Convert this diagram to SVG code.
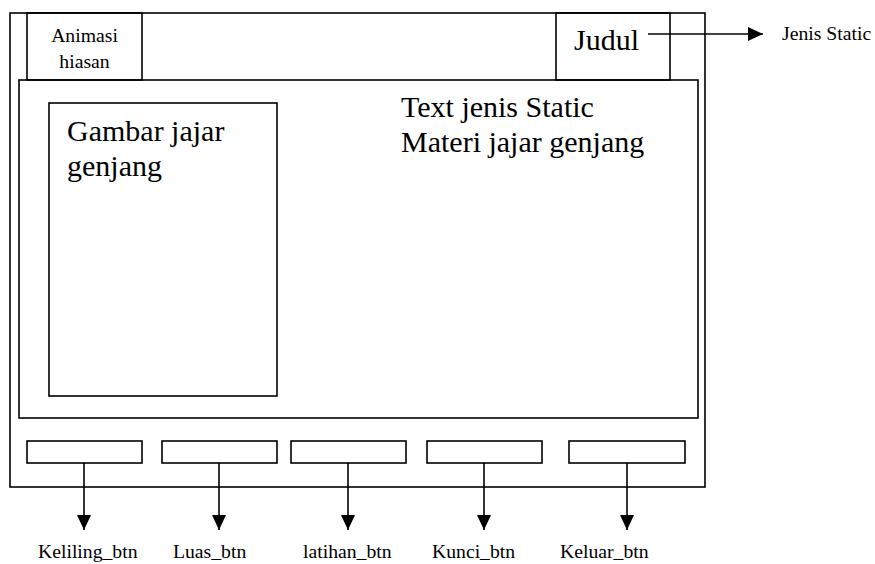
<svg xmlns="http://www.w3.org/2000/svg" width="875" height="564" viewBox="0 0 875 564">
  <style>
    .box { fill: none; stroke: #000; stroke-width: 1.6; }
    .wire { fill: none; stroke: #000; stroke-width: 1.6; }
    text { font-family: "Liberation Serif", "Times New Roman", serif; fill: #000; }
    .small { font-size: 19.7px; }
    .big { font-size: 30px; }
  </style>
  <defs>
    <marker id="arrow" viewBox="0 0 15 14" refX="15" refY="7" markerWidth="15" markerHeight="14" markerUnits="userSpaceOnUse" orient="auto">
      <path d="M0,0 L15,7 L0,14 Z" fill="#000"/>
    </marker>
  </defs>
  <rect width="875" height="564" fill="#fff"/>

  <!-- outer window frame -->
  <g id="frame">
    <rect class="box" x="10" y="13" width="695" height="474"/>
  </g>

  <!-- header: animation slot -->
  <g id="animasi">
    <rect class="box" x="27" y="13" width="115" height="67"/>
    <text class="small" x="84.5" y="42" text-anchor="middle">Animasi</text>
    <text class="small" x="84.5" y="68" text-anchor="middle">hiasan</text>
  </g>

  <!-- header: title slot -->
  <g id="judul">
    <rect class="box" x="556" y="13" width="114" height="67"/>
    <text class="big" x="574" y="50">Judul</text>
  </g>

  <!-- content area -->
  <g id="konten">
    <rect class="box" x="19" y="80" width="679" height="338"/>
    <text class="big" x="401" y="117">Text jenis Static</text>
    <text class="big" x="401" y="152">Materi jajar genjang</text>
  </g>

  <!-- picture panel -->
  <g id="gambar">
    <rect class="box" x="49" y="103" width="228" height="293"/>
    <text class="big" x="67" y="141">Gambar jajar</text>
    <text class="big" x="67" y="176">genjang</text>
  </g>

  <!-- buttons -->
  <g id="btn-keliling"><rect class="box" x="27" y="441" width="115" height="22"/></g>
  <g id="btn-luas"><rect class="box" x="162" y="441" width="115" height="22"/></g>
  <g id="btn-latihan"><rect class="box" x="291" y="441" width="115" height="22"/></g>
  <g id="btn-kunci"><rect class="box" x="427" y="441" width="115" height="22"/></g>
  <g id="btn-keluar"><rect class="box" x="569" y="441" width="116" height="22"/></g>

  <!-- connectors -->
  <g id="connectors">
    <line class="wire" x1="648" y1="34" x2="763" y2="34" marker-end="url(#arrow)"/>
    <line class="wire" x1="84" y1="463" x2="84" y2="530" marker-end="url(#arrow)"/>
    <line class="wire" x1="219" y1="463" x2="219" y2="530" marker-end="url(#arrow)"/>
    <line class="wire" x1="348" y1="463" x2="348" y2="530" marker-end="url(#arrow)"/>
    <line class="wire" x1="484" y1="463" x2="484" y2="530" marker-end="url(#arrow)"/>
    <line class="wire" x1="627" y1="463" x2="627" y2="530" marker-end="url(#arrow)"/>
  </g>

  <!-- connector labels -->
  <g id="labels">
    <text class="small" x="782" y="40">Jenis Static</text>
    <text class="small" x="38" y="558">Keliling_btn</text>
    <text class="small" x="173" y="558">Luas_btn</text>
    <text class="small" x="303" y="558">latihan_btn</text>
    <text class="small" x="432" y="558">Kunci_btn</text>
    <text class="small" x="560" y="558">Keluar_btn</text>
  </g>
</svg>
